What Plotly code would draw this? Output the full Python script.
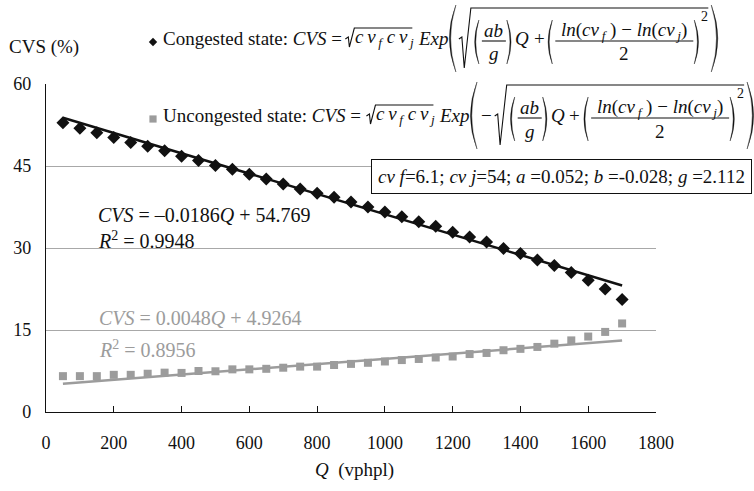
import plotly.graph_objects as go

# ---------------- data ----------------
Q = [50, 100, 150, 200, 250, 300, 350, 400, 450, 500, 550, 600, 650, 700, 750, 800, 850,
     900, 950, 1000, 1050, 1100, 1150, 1200, 1250, 1300, 1350, 1400, 1450, 1500, 1550,
     1600, 1650, 1700]
congested = [52.9, 51.9, 51.1, 50.2, 49.3, 48.6, 47.8, 46.8, 46.0, 45.1, 44.4, 43.5, 42.6,
             41.7, 40.8, 40.0, 39.3, 38.4, 37.5, 36.6, 35.7, 34.8, 34.0, 32.9, 32.0, 31.1,
             29.9, 29.0, 27.8, 26.8, 25.5, 24.1, 22.5, 20.6]
uncongested = [6.56, 6.56, 6.56, 6.8, 6.8, 7.0, 7.2, 7.15, 7.5, 7.45, 7.8, 7.8, 7.9, 8.1,
               8.3, 8.3, 8.6, 8.8, 9.0, 9.24, 9.5, 9.7, 9.97, 10.15, 10.6, 10.8, 11.3,
               11.55, 11.9, 12.5, 13.1, 13.8, 14.65, 16.2]
congested_fit = [-0.0186, 54.769]      # slope, intercept
uncongested_fit = [0.0048, 4.9264]
x_ticks = [0, 200, 400, 600, 800, 1000, 1200, 1400, 1600, 1800]
y_ticks = [0, 15, 30, 45, 60]
congested_eq = ["<i>CVS</i> = \u20130.0186<i>Q</i> + 54.769", "<i>R</i><sup>2</sup> = 0.9948"]
uncongested_eq = ["<i>CVS</i> = 0.0048<i>Q</i> + 4.9264", "<i>R</i><sup>2</sup> = 0.8956"]
param_text = ("<i>cv f</i>=6.1; <i>cv j</i>=54; <i>a</i> =0.052; "
              "<i>b</i> =-0.028; <i>g</i> =2.112")

# ---------------- geometry helpers ----------------
W, H = 754, 491
ML, MR, MT, MB = 46, 98, 84, 79
PW, PH = W - ML - MR, H - MT - MB
SERIF = "Liberation Serif"
BLACK = "#111111"
GREY = "#9c9c9c"


def px(x):
    return (x - ML) / PW


def py(y):
    return (H - MB - y) / PH


ann = []
shp = []


def T(x, y, s, size=20, anchor="left", color=BLACK, **kw):
    d = dict(x=px(x), y=py(y), xref="paper", yref="paper", text=s, showarrow=False,
             xanchor=anchor, yanchor="middle", borderpad=0,
             font=dict(family=SERIF, size=size, color=color))
    d.update(kw)
    ann.append(d)


def poly(points, width=1.1, color=BLACK):
    d = "M " + " L ".join(f"{px(a):.5f},{py(b):.5f}" for a, b in points)
    shp.append(dict(type="path", xref="paper", yref="paper", path=d,
                    line=dict(color=color, width=width)))


def paren(x_end, ytop, ybot, bulge, left=True, thick=1.3):
    ym = (ytop + ybot) / 2
    s = -1 if left else 1
    c1 = x_end + s * 2 * bulge
    c2 = x_end + s * 2 * (bulge - thick)
    d = (f"M {px(x_end):.5f},{py(ytop):.5f} Q {px(c1):.5f},{py(ym):.5f} {px(x_end):.5f},{py(ybot):.5f} "
         f"Q {px(c2):.5f},{py(ym):.5f} {px(x_end):.5f},{py(ytop):.5f} Z")
    shp.append(dict(type="path", xref="paper", yref="paper", path=d,
                    fillcolor=BLACK, line=dict(color=BLACK, width=0.4)))


def radical(x0, w, ytop, ybot, xend, yc):
    poly([(x0, yc + 1), (x0 + 3, yc - 1), (x0 + 0.45 * w, ybot), (x0 + w, ytop), (xend, ytop)],
         width=1.1)


def hline(x0, x1, y, width=1.1):
    poly([(x0, y), (x1, y)], width=width)


F = 19
CV_F = "<i>c\u2009v<sub>\u2009f</sub>\u2005c\u2009v<sub>\u2009j</sub></i>"
NUMER = ("<i>ln</i>(<i>cv<sub>\u2009f</sub></i> ) \u2212 "
         "<i>ln</i>(<i>cv<sub>\u2009j</sub></i>)")


def formula(xm, yc, label, label_em, neg, marker, cv_w):
    # legend marker
    if marker == "diamond":
        s = 4.2
        d = (f"M {px(xm - s):.5f},{py(yc + 4):.5f} L {px(xm):.5f},{py(yc + 4 - s):.5f} "
             f"L {px(xm + s):.5f},{py(yc + 4):.5f} L {px(xm):.5f},{py(yc + 4 + s):.5f} Z")
        shp.append(dict(type="path", xref="paper", yref="paper", path=d, fillcolor=BLACK,
                        line=dict(width=0)))
    else:
        s = 3.6
        shp.append(dict(type="rect", xref="paper", yref="paper", x0=px(xm - s), x1=px(xm + s),
                        y0=py(yc + 4 + s), y1=py(yc + 4 - s), fillcolor=GREY, line=dict(width=0)))
    x = xm + 9
    T(x, yc, label + " <i>CVS</i> =", size=F)
    x += (label_em + 2.842 - 0.25) * F + 9
    # small radical over cv_f cv_j
    r0 = x
    x += 9
    T(x, yc, CV_F, size=F)
    radical(r0, 9, yc - 10, yc + 9, x + cv_w + 2, yc)
    x += cv_w + 7
    T(x, yc, "<i>Exp</i>", size=F)
    x += 1.555 * F
    # big left paren
    pe = x + 9
    paren(pe, yc - 33, yc + 34, 6.5, left=True)
    x = pe + 3
    if neg:
        T(x, yc, "\u2212", size=F)
        x += 0.564 * F + 4
    # big radical
    r1 = x
    rw = 12
    x += rw
    # (ab/g)
    paren(x + 8, yc - 18, yc + 26, 4.2, left=True, thick=1.1)
    x += 11
    fw = 24
    T(x + fw / 2, yc - 7, "<i>ab</i>", anchor="center", size=F)
    T(x + fw / 2, yc + 16, "<i>g</i>", anchor="center", size=F)
    hline(x, x + fw, yc + 3)
    x += fw + 1
    paren(x, yc - 18, yc + 26, 4.2, left=False, thick=1.1)
    x += 7
    T(x, yc, "<i>Q</i>", size=F)
    x += 0.722 * F + 5
    T(x, yc, "+", size=F)
    x += 0.564 * F + 3
    # ((ln - ln)/2)^2
    paren(x + 6, yc - 18, yc + 26, 4.2, left=True, thick=1.1)
    x += 9
    nw = 138
    T(x + nw / 2, yc - 7, NUMER, anchor="center", size=F)
    T(x + nw / 2, yc + 16, "2", anchor="center", size=F)
    hline(x, x + nw, yc + 3)
    x += nw + 1
    paren(x, yc - 18, yc + 26, 4.2, left=False, thick=1.1)
    x += 6
    T(x, yc - 22, "2", size=14)
    x += 8
    radical(r1, rw, yc - 30, yc + 30, x, yc)
    x += 3
    paren(x, yc - 33, yc + 34, 6.5, left=False)


# ---------------- figure ----------------
fig = go.Figure()
fig.add_trace(go.Scatter(x=Q, y=congested, mode="markers",
                         marker=dict(symbol="diamond", size=10, color=BLACK, line=dict(width=0))))
fig.add_trace(go.Scatter(x=Q, y=uncongested, mode="markers",
                         marker=dict(symbol="square", size=8, color=GREY, line=dict(width=0))))
xfit = [Q[0], Q[-1]]
fig.add_trace(go.Scatter(x=xfit, y=[congested_fit[0] * v + congested_fit[1] for v in xfit],
                         mode="lines", line=dict(color=BLACK, width=2.5)))
fig.add_trace(go.Scatter(x=xfit, y=[uncongested_fit[0] * v + uncongested_fit[1] for v in xfit],
                         mode="lines", line=dict(color=GREY, width=2.5)))

# white background of the formula image (hides the top grid line)
shp.append(dict(type="rect", xref="paper", yref="paper", x0=px(170), x1=px(754),
                y0=py(150), y1=py(0), fillcolor="white", line=dict(width=0), layer="between"))

formula(153, 38, "Congested state:", 6.583, False, "diamond", 56)
formula(153, 115, "Uncongested state:", 7.694, True, "square", 56)

# parameter box
T(561, 176, param_text, size=19, anchor="center", bgcolor="white", bordercolor=BLACK,
  borderwidth=1)
ann[-1]["borderpad"] = 6

# regression labels
T(97, 215, congested_eq[0])
T(97, 240, congested_eq[1])
T(98, 318, uncongested_eq[0], color=GREY)
T(98, 349, uncongested_eq[1], color=GREY)

# axis titles
T(44, 47, "CVS (%)", size=19, anchor="center")
T(354, 470, "<i>Q</i>  (vphpl)", size=19, anchor="center")

fig.update_layout(
    width=W, height=H, margin=dict(l=ML, r=MR, t=MT, b=MB, pad=0),
    paper_bgcolor="white", plot_bgcolor="white", showlegend=False,
    annotations=ann, shapes=shp,
    font=dict(family=SERIF, size=18, color=BLACK),
)
fig.update_xaxes(range=[0, 1800], tickvals=x_ticks, showgrid=False, zeroline=False,
                 showline=True, linecolor=BLACK, linewidth=1.3, ticks="inside", ticklen=6,
                 tickwidth=1.2, tickcolor=BLACK, ticklabelstandoff=14,
                 tickfont=dict(family=SERIF, size=18, color=BLACK))
fig.update_yaxes(range=[0, 60], tickvals=y_ticks, showgrid=True, gridcolor="#a8a8a8",
                 gridwidth=1, zeroline=False, showline=True, linecolor=BLACK, linewidth=1.3,
                 ticks="", ticklabelstandoff=10,
                 tickfont=dict(family=SERIF, size=18, color=BLACK))

fig.write_html("out.html")
